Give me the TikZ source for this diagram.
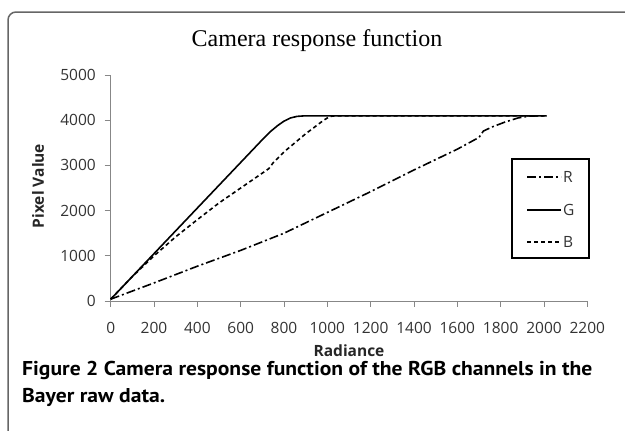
\documentclass[tikz,border=0pt]{standalone}
\usepackage{fontspec}
\setmainfont{Liberation Serif}
\newfontfamily\tickfont{Open Sans}
\newfontfamily\capfont[FakeStretch=1.08]{PT Sans}
\begin{document}
\begin{tikzpicture}[x=1pt,y=-1pt,
  axisline/.style={draw=black!47, line width=1pt},
  ticklab/.style={font=\tickfont\fontsize{15.5}{18}\selectfont, inner sep=0pt, text=black!80},
  axtitle/.style={font=\tickfont\bfseries\fontsize{15.5}{18}\selectfont, inner sep=0pt, text=black!85},
  captext/.style={font=\capfont\bfseries\fontsize{20}{23}\selectfont, anchor=west, inner sep=0pt},
  curve/.style={line width=1.6pt, black, line join=round},
  rdash/.style={dash pattern=on 9pt off 3pt on 2pt off 3pt},
  bdash/.style={dash pattern=on 4pt off 3pt}]
\useasboundingbox (0,0) rectangle (625,431);
% frame
\draw[draw=black!60, line width=1.5pt, rounded corners=8pt] (8,440) -- (8,12) -- (640,12);
% title
\node[font=\fontsize{24}{28}\selectfont, inner sep=0pt] (title) at (317,41) {Camera response function};
% axes
\coordinate (o) at (110.7,301);
\coordinate (ytop) at (110.7,75);
\coordinate (xend) at (587.3,301);
\draw[axisline] (ytop) -- (o) -- (xend);
\foreach \i in {0,...,5} {
  \draw[axisline] (104.5,301-\i*45.2) -- (110.7,301-\i*45.2);
  \pgfmathtruncatemacro{\lab}{\i*1000}
  \node[ticklab, anchor=east] (yl\i) at (96,301-\i*45.2) {\lab};
}
\foreach \i in {0,...,11} {
  \draw[axisline] (110.7+\i*43.33,301) -- (110.7+\i*43.33,306.5);
  \pgfmathtruncatemacro{\lab}{\i*200}
  \node[ticklab] (xl\i) at (110.7+\i*43.33,327.5) {\lab};
}
\node[axtitle] (xt) at (349,351) {Radiance};
\node[axtitle, rotate=90] (yt) at (38,186) {Pixel Value};
% data
\begin{scope}[shift={(110.7,301)}, x=0.21667pt, y=0.0452pt]
\draw[curve, rdash] (0,40) -- (200,400) -- (400,770) -- (600,1120) -- (800,1500) -- (1000,1960) -- (1200,2420) -- (1400,2900) -- (1600,3360) -- (1700,3620) -- (1720,3760) -- (1760,3850) -- (1820,3960) -- (1880,4050) -- (1930,4090) -- (1960,4095) -- (2012,4095);
\draw[curve, bdash] (0,40) -- (100,540) -- (200,1000) -- (300,1420) -- (400,1800) -- (500,2170) -- (600,2500) -- (700,2830) -- (730,2930) -- (750,3060) -- (800,3300) -- (900,3700) -- (980,3990) -- (1010,4080) -- (1030,4095) -- (2012,4095);
\draw[curve] (0,40) -- (690,3520) -- (710,3620) -- (740,3760) -- (770,3880) -- (800,3980) -- (830,4050) -- (860,4085) -- (890,4095) -- (2012,4095);
\end{scope}
% legend
\node[draw=black, line width=1.5pt, minimum width=77pt, minimum height=99pt, inner sep=0pt] (leg) at (550.5,208.5) {};
\coordinate (ra) at (527,177); \coordinate (rb) at (561,177);
\coordinate (ga) at (527,210); \coordinate (gb) at (561,210);
\coordinate (ba) at (527,242); \coordinate (bb) at (561,242);
\draw[curve, rdash] (ra) -- (rb);
\draw[curve] (ga) -- (gb);
\draw[curve, bdash] (ba) -- (bb);
\node[ticklab, anchor=west] (lr) at (563,177) {R};
\node[ticklab, anchor=west] (lg) at (563,210) {G};
\node[ticklab, anchor=west] (lb) at (563,242) {B};
% caption
\node[captext] (cap1) at (22,370) {Figure 2 Camera response function of the RGB channels in the};
\node[captext] (cap2) at (22,397) {Bayer raw data.};
\end{tikzpicture}
\end{document}
